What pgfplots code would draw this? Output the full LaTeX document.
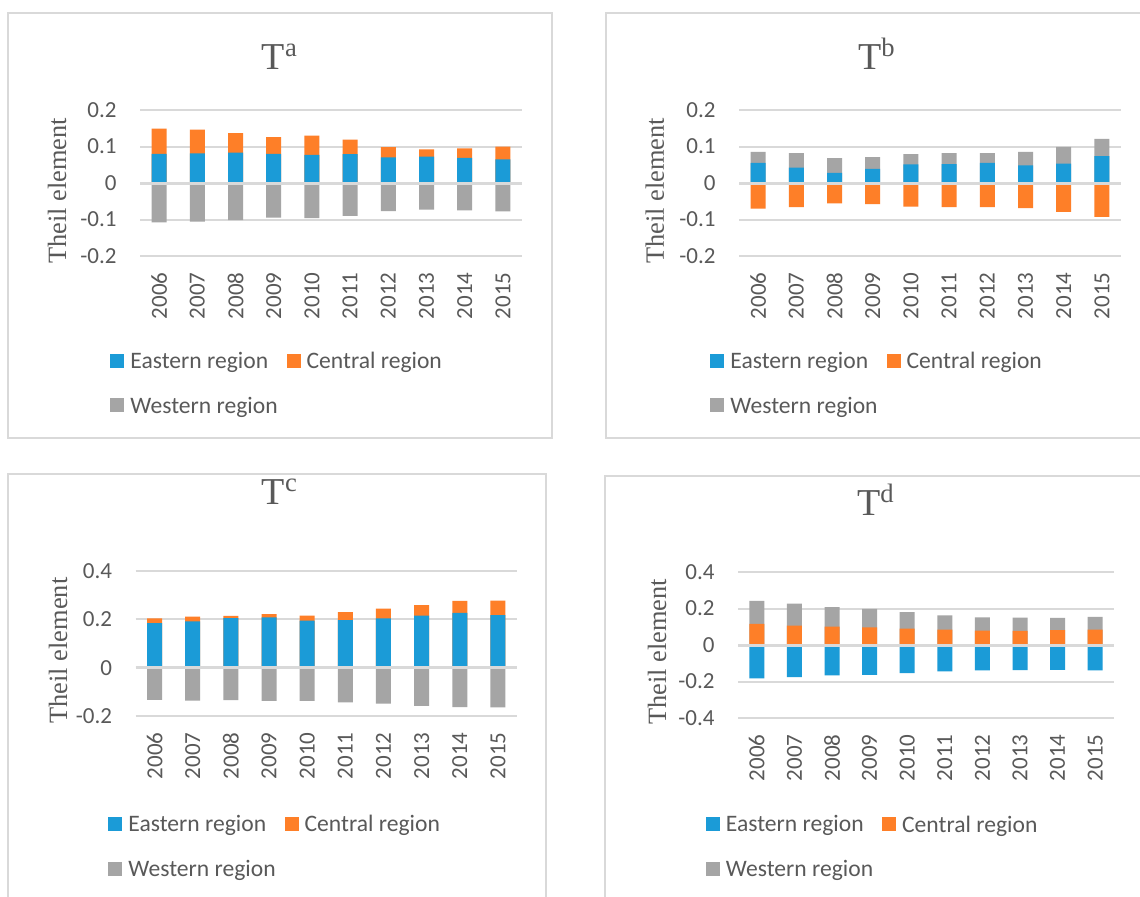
\documentclass[border=0pt]{standalone}
\usepackage{fontspec}
\setmainfont{Carlito}
\newfontfamily\timesfont{Liberation Serif}
\usepackage{pgfplots}
\usepackage{pgfplotstable}
\pgfplotsset{compat=1.18}

\definecolor{eastblue}{HTML}{1B9BD7}
\definecolor{centorange}{HTML}{FE7F28}
\definecolor{westgray}{HTML}{A5A5A5}
\definecolor{gridgray}{HTML}{D9D9D9}
\definecolor{textgray}{HTML}{595959}

% Theil elements by region: E = eastern, C = central, W = western
\pgfplotstableread{
year E C W
2006 0.080 0.069 -0.108
2007 0.081 0.065 -0.106
2008 0.083 0.054 -0.102
2009 0.080 0.046 -0.095
2010 0.077 0.053 -0.096
2011 0.079 0.040 -0.090
2012 0.070 0.028 -0.077
2013 0.072 0.020 -0.073
2014 0.069 0.026 -0.075
2015 0.065 0.035 -0.078
}\Ta
\pgfplotstableread{
year E C W
2006 0.055 -0.070 0.030
2007 0.042 -0.066 0.040
2008 0.028 -0.056 0.040
2009 0.039 -0.058 0.032
2010 0.051 -0.065 0.028
2011 0.052 -0.066 0.030
2012 0.055 -0.066 0.027
2013 0.048 -0.069 0.037
2014 0.053 -0.079 0.046
2015 0.074 -0.093 0.047
}\Tb
\pgfplotstableread{
year E C W
2006 0.184 0.020 -0.133
2007 0.192 0.019 -0.136
2008 0.205 0.009 -0.134
2009 0.208 0.014 -0.137
2010 0.195 0.020 -0.137
2011 0.197 0.033 -0.144
2012 0.204 0.040 -0.149
2013 0.215 0.044 -0.158
2014 0.227 0.049 -0.163
2015 0.218 0.060 -0.164
}\Tc
\pgfplotstableread{
year E C W
2006 -0.183 0.116 0.126
2007 -0.176 0.106 0.121
2008 -0.167 0.101 0.106
2009 -0.163 0.097 0.101
2010 -0.154 0.090 0.090
2011 -0.145 0.084 0.079
2012 -0.139 0.079 0.073
2013 -0.138 0.078 0.072
2014 -0.136 0.082 0.067
2015 -0.139 0.084 0.070
}\Td

\newcommand\ticksize{\fontsize{11.5}{13.8}\selectfont}
\newcommand\legsize{\fontsize{11.8}{14}\selectfont}
\newcommand\legsq[1]{\addlegendimage{legend image code/.code={\fill[#1] (0pt,-3pt) rectangle (7pt,4pt);}}}

\tikzset{
  zeroline/.style={gridgray, line width=1.5pt},
  titletext/.style={anchor=base, text=textgray, font=\timesfont\fontsize{19}{22}\selectfont},
}

\pgfplotsset{
  theil/.style={
    scale only axis, anchor=south west, clip=false,
    ybar,
    every axis plot/.append style={/pgf/bar shift=0pt, bar width=7.5pt, draw=none},
    xmin=2005.5, xmax=2015.5,
    xtick={2006,2007,2008,2009,2010,2011,2012,2013,2014,2015},
    xticklabels={2006,2007,2008,2009,2010,2011,2012,2013,2014,2015},
    axis line style={draw=none},
    major tick length=0pt,
    ymajorgrids,
    grid style={line width=1pt, gridgray},
    tick label style={font=\ticksize, text=textgray},
    xticklabel style={rotate=90, anchor=east, inner sep=0pt},
    xticklabel shift=8pt,
    yticklabel style={anchor=east, inner sep=0pt},
    yticklabel shift=11.5pt,
    /pgf/number format/assume math mode=true,
    ylabel={Theil element},
    ylabel style={font=\timesfont\fontsize{13.2}{16}\selectfont, text=textgray, anchor=center},
    legend columns=2,
    legend cell align=left,
    legend style={draw=none, fill=none, inner sep=0pt, font=\legsize, text=textgray,
      nodes={inner sep=0pt}, row sep=12.6pt, anchor=north west,
      /tikz/every odd column/.append style={column sep=3pt},
      /tikz/every even column/.append style={column sep=4.5pt}},
  },
}

\begin{document}
\begin{tikzpicture}[x=0.5pt, y=-0.5pt]
\path[use as bounding box] (0,0) rectangle (1140,896);
\clip (0,0) rectangle (1140,896);
\fill[white] (0,0) rectangle (1140,896);

% chart frames
\draw[gridgray, line width=1pt] (8,13) rectangle (552,438);
\draw[gridgray, line width=1pt] (606,13) rectangle (1160,438);
\draw[gridgray, line width=1pt] (8,474) rectangle (546,920);
\draw[gridgray, line width=1pt] (605,476) rectangle (1160,920);

% titles
\node[titletext] at (280,69) {T\textsuperscript{a}};
\node[titletext] at (877,69) {T\textsuperscript{b}};
\node[titletext] at (280,504) {T\textsuperscript{c}};
\node[titletext] at (876,515) {T\textsuperscript{d}};

% T^a
\begin{axis}[theil, at={(70pt,-128pt)}, width=191pt, height=73pt,
  ymin=-0.2, ymax=0.2, ytick={-0.2,-0.1,0,0.1,0.2},
  ylabel style={at={(axis description cs:-0.217,0.445)}},
  legend style={at={(axis description cs:-0.0785,-0.656)}}]
\addplot[fill=centorange, forget plot] table[x=year, y expr=\thisrow{E}+\thisrow{C}] {\Ta};
\addplot[fill=eastblue, forget plot] table[x=year, y=E] {\Ta};
\addplot[fill=westgray, forget plot] table[x=year, y=W] {\Ta};
\draw[zeroline] (axis cs:2005.5,0) -- (axis cs:2015.5,0);
\legsq{eastblue}\addlegendentry{Eastern region}
\legsq{centorange}\addlegendentry{Central region}
\legsq{westgray}\addlegendentry{Western region}
\end{axis}

% T^b
\begin{axis}[theil, at={(369.5pt,-128pt)}, width=191pt, height=73pt,
  ymin=-0.2, ymax=0.2, ytick={-0.2,-0.1,0,0.1,0.2},
  ylabel style={at={(axis description cs:-0.220,0.445)}},
  legend style={at={(axis description cs:-0.076,-0.656)}}]
\addplot[fill=westgray, forget plot] table[x=year, y expr=\thisrow{E}+\thisrow{W}] {\Tb};
\addplot[fill=eastblue, forget plot] table[x=year, y=E] {\Tb};
\addplot[fill=centorange, forget plot] table[x=year, y=C] {\Tb};
\draw[zeroline] (axis cs:2005.5,0) -- (axis cs:2015.5,0);
\legsq{eastblue}\addlegendentry{Eastern region}
\legsq{centorange}\addlegendentry{Central region}
\legsq{westgray}\addlegendentry{Western region}
\end{axis}

% T^c
\begin{axis}[theil, at={(67.75pt,-358pt)}, width=190.75pt, height=72.5pt,
  ymin=-0.2, ymax=0.4, ytick={-0.2,0,0.2,0.4},
  ylabel style={at={(axis description cs:-0.203,0.452)}},
  legend style={at={(axis description cs:-0.072,-0.682)}}]
\addplot[fill=centorange, forget plot] table[x=year, y expr=\thisrow{E}+\thisrow{C}] {\Tc};
\addplot[fill=eastblue, forget plot] table[x=year, y=E] {\Tc};
\addplot[fill=westgray, forget plot] table[x=year, y=W] {\Tc};
\draw[zeroline] (axis cs:2005.5,0) -- (axis cs:2015.5,0);
\legsq{eastblue}\addlegendentry{Eastern region}
\legsq{centorange}\addlegendentry{Central region}
\legsq{westgray}\addlegendentry{Western region}
\end{axis}

% T^d
\begin{axis}[theil, at={(369pt,-359pt)}, width=188pt, height=73pt,
  ymin=-0.4, ymax=0.4, ytick={-0.4,-0.2,0,0.2,0.4},
  ylabel style={at={(axis description cs:-0.215,0.452)}},
  legend style={at={(axis description cs:-0.0864,-0.666)}}]
\addplot[fill=westgray, forget plot] table[x=year, y expr=\thisrow{C}+\thisrow{W}] {\Td};
\addplot[fill=centorange, forget plot] table[x=year, y=C] {\Td};
\addplot[fill=eastblue, forget plot] table[x=year, y=E] {\Td};
\draw[zeroline] (axis cs:2005.5,0) -- (axis cs:2015.5,0);
\legsq{eastblue}\addlegendentry{Eastern region}
\legsq{centorange}\addlegendentry{Central region}
\legsq{westgray}\addlegendentry{Western region}
\end{axis}
\end{tikzpicture}
\end{document}
